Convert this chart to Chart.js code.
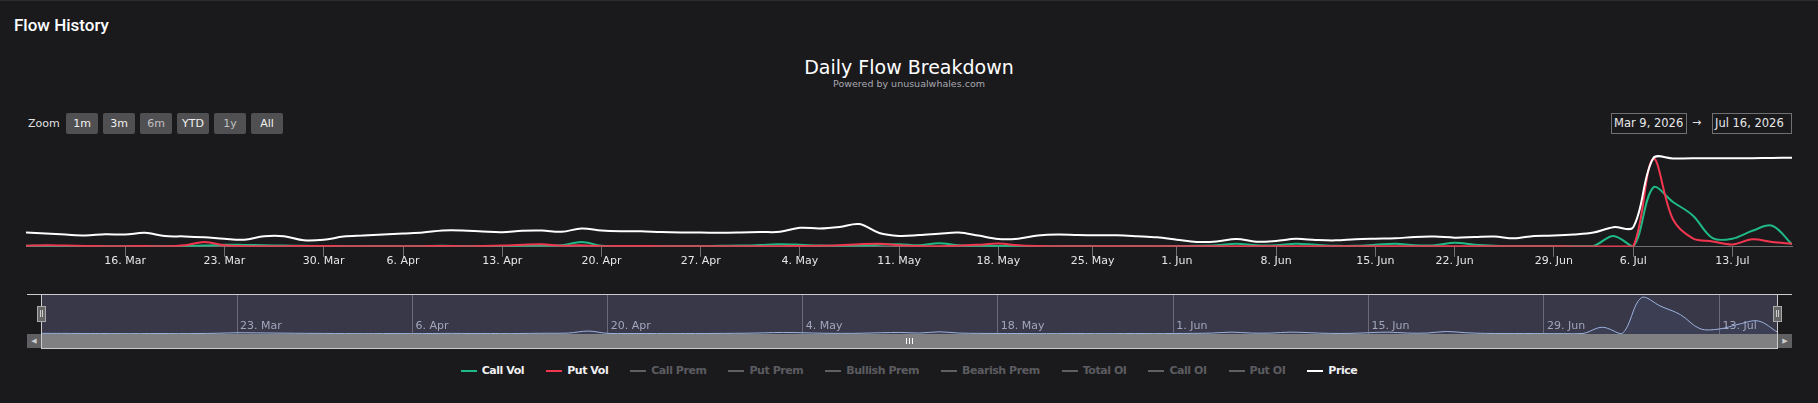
<!DOCTYPE html>
<html>
<head>
<meta charset="utf-8" />
<title>Flow History</title>
<style>
  html, body { margin: 0; padding: 0; }
  body { width: 1818px; height: 403px; background: #1a1a1d; position: relative; overflow: hidden;
         font-family: 'DejaVu Sans', sans-serif; color: #e0e0e3; border-top: 1px solid #2c2c30; box-sizing: border-box; }
  .abs { position: absolute; }
  #panelTitle { left: 14px; top: 14px; font: 500 17px Roboto, sans-serif; color: #fff; line-height: 20px; }
  #title { left: 0; width: 1818px; top: 55px; text-align: center; font-size: 19px; line-height: 22px; color: #fff; }
  #subtitle { left: 0; width: 1818px; top: 77px; text-align: center; font-size: 9.5px; line-height: 12px; color: #a8a8b0; }
  #zoomLbl { left: 28px; top: 116px; font-size: 11px; line-height: 14px; }
  .btn { top: 112px; width: 32px; height: 21px; background: #505053; border-radius: 2px; font-size: 11px;
         line-height: 21px; text-align: center; color: #f0f0f0; }
  .btn.dim { color: #c0c0c3; }
  .dbox { top: 112px; height: 19px; border: 1px solid #707073; font-size: 11.5px; line-height: 19px; padding-left: 2px; color: #e8e8ea; box-sizing: content-box; }
  #arrow { left: 1692px; top: 114px; font-size: 11px; line-height: 16px; }
  #legend { left: 0; width: 1818px; top: 363px; display: flex; justify-content: center; align-items: center;
            font: bold 11px 'DejaVu Sans', sans-serif; letter-spacing: -0.45px; }
  .item { display: flex; align-items: center; margin: 0 11px; }
  .sym { width: 16px; height: 2px; margin-right: 5px; }
</style>
</head>
<body>
  <div id="panelTitle" class="abs">Flow History</div>
  <div id="title" class="abs">Daily Flow Breakdown</div>
  <div id="subtitle" class="abs">Powered by unusualwhales.com</div>

  <div id="zoomLbl" class="abs">Zoom</div>
  <div class="abs btn" style="left:66px">1m</div>
  <div class="abs btn" style="left:103px">3m</div>
  <div class="abs btn dim" style="left:140px">6m</div>
  <div class="abs btn" style="left:177px">YTD</div>
  <div class="abs btn dim" style="left:214px">1y</div>
  <div class="abs btn" style="left:251px">All</div>

  <div class="abs dbox" style="left:1611px;width:72px">Mar 9, 2026</div>
  <div id="arrow" class="abs">&rarr;</div>
  <div class="abs dbox" style="left:1712px;width:76px">Jul 16, 2026</div>

  <canvas id="mainChart" class="abs" width="1818" height="125" style="left:0;top:140px"></canvas>

  <!-- navigator -->
  <canvas id="navChart" class="abs" width="1736" height="39" style="left:42px;top:294px"></canvas>
  <div class="abs" style="left:27px;top:293px;width:1765px;height:1px;background:#cccccc"></div>
  <div class="abs" style="left:27px;top:333px;width:1765px;height:14px;background:#404043"></div>
  <div class="abs" style="left:42px;top:333px;width:1736px;height:14px;background:#808083"></div>
  <div class="abs" style="left:27px;top:333px;width:14px;height:14px;background:#606063;color:#ccc;font-size:7px;line-height:14px;text-align:center">&#9664;</div>
  <div class="abs" style="left:1778px;top:333px;width:14px;height:14px;background:#606063;color:#ccc;font-size:7px;line-height:14px;text-align:center">&#9654;</div>
  <div class="abs" style="left:41px;top:293px;width:1px;height:55px;background:#cccccc"></div>
  <div class="abs" style="left:1777px;top:293px;width:1px;height:55px;background:#cccccc"></div>
  <div class="abs" style="left:41px;top:347px;width:1737px;height:1px;background:#cccccc"></div>
  <div class="abs" style="left:906px;top:337px;width:1px;height:6px;background:#fff"></div>
  <div class="abs" style="left:909px;top:337px;width:1px;height:6px;background:#fff"></div>
  <div class="abs" style="left:912px;top:337px;width:1px;height:6px;background:#fff"></div>
  <div class="abs" style="left:37px;top:305px;width:7px;height:14px;background:#666;border:1px solid #aaa"></div>
  <div class="abs" style="left:40px;top:309px;width:1px;height:7px;background:#ccc"></div>
  <div class="abs" style="left:42px;top:309px;width:1px;height:7px;background:#ccc"></div>
  <div class="abs" style="left:1773px;top:305px;width:7px;height:14px;background:#666;border:1px solid #aaa"></div>
  <div class="abs" style="left:1776px;top:309px;width:1px;height:7px;background:#ccc"></div>
  <div class="abs" style="left:1778px;top:309px;width:1px;height:7px;background:#ccc"></div>

  <div id="legend" class="abs"></div>

  <script src="https://cdn.jsdelivr.net/npm/chart.js@4.4.1/dist/chart.umd.min.js"></script>
  <script>
    // trading days, Mar 9 - Jul 16 2026 (holidays skipped)
    var tradingDays = [
      '03-09','03-10','03-11','03-12','03-13','03-16','03-17','03-18','03-19','03-20',
      '03-23','03-24','03-25','03-26','03-27','03-30','03-31',
      '04-01','04-02','04-06','04-07','04-08','04-09','04-10','04-13','04-14','04-15',
      '04-16','04-17','04-20','04-21','04-22','04-23','04-24','04-27','04-28','04-29','04-30',
      '05-01','05-04','05-05','05-06','05-07','05-08','05-11','05-12','05-13','05-14',
      '05-15','05-18','05-19','05-20','05-21','05-22','05-26','05-27','05-28','05-29',
      '06-01','06-02','06-03','06-04','06-05','06-08','06-09','06-10','06-11','06-12',
      '06-15','06-16','06-17','06-18','06-22','06-23','06-24','06-25','06-26','06-29','06-30',
      '07-01','07-02','07-06','07-07','07-08','07-09','07-10','07-13','07-14','07-15','07-16'
    ];

    var callVol = [
      1060, 1060, 850, 850, 640, 640, 850, 640, 850, 1280,
      2130, 1920, 1600, 1280, 1060, 850, 640, 640, 850, 640,
      850, 1060, 850, 850, 640, 1060, 1280, 1600, 5000, 1060,
      850, 850, 640, 850, 850, 1060, 1280, 1920, 2660, 2130,
      1280, 1060, 1280, 2130, 2660, 1600, 3720, 1600, 1060, 850,
      850, 640, 640, 850, 640, 640, 850, 640, 850, 1060,
      1600, 3190, 1600, 1600, 3190, 2130, 1060, 1060, 2130, 3190,
      1600, 1600, 4260, 2130, 1060, 850, 850, 640, 640, 850,
      11380, 320, 61700, 46800, 32700, 9040, 8510, 16700, 22000, 2450
    ];

    var putVol = [
      1060, 1600, 1280, 850, 640, 640, 850, 530, 1600, 5000,
      1600, 640, 530, 640, 850, 850, 640, 530, 640, 640,
      640, 850, 640, 850, 1280, 2130, 2660, 1060, 1600, 640,
      850, 850, 640, 640, 530, 640, 640, 530, 640, 850,
      1060, 1600, 2660, 3190, 1600, 850, 640, 1060, 2130, 3510,
      1600, 850, 640, 640, 530, 640, 640, 530, 640, 530,
      640, 640, 530, 640, 530, 640, 640, 530, 640, 640,
      530, 640, 640, 530, 530, 530, 530, 530, 430, 430,
      320, 320, 91800, 28700, 8830, 5640, 2450, 7770, 5000, 3190
    ];

    var price = [
      3.72, 3.46, 3.19, 2.98, 3.27, 3.19, 3.64, 2.79, 2.71, 2.47,
      2.07, 1.86, 2.74, 2.74, 1.68, 1.81, 2.66, 2.93, 3.19, 3.46,
      3.72, 4.26, 4.26, 3.99, 3.80, 4.20, 4.26, 3.91, 4.79, 4.26,
      4.07, 4.07, 3.83, 3.72, 3.72, 3.64, 3.72, 3.86, 3.91, 4.97,
      4.79, 5.19, 5.93, 3.59, 2.85, 3.06, 3.40, 3.72, 2.93, 2.05,
      2.13, 2.93, 3.19, 3.06, 3.01, 3.01, 2.77, 2.47, 1.86, 1.28,
      1.38, 2.05, 1.33, 1.54, 2.07, 1.78, 1.68, 2.00, 2.13, 2.21,
      2.58, 2.66, 2.39, 2.53, 2.66, 2.21, 2.85, 2.93, 3.19, 3.72,
      5.13, 5.13, 23.06, 23.06, 23.09, 23.09, 23.12, 23.14, 23.20, 23.22
    ];

    // week-start ticks (main axis) and two-week ticks (navigator)
    var mainTickDates = ['03-16','03-23','03-30','04-06','04-13','04-20','04-27','05-04','05-11',
                         '05-18','05-25','06-01','06-08','06-15','06-22','06-29','07-06','07-13'];
    var navTickDates = ['03-23','04-06','04-20','05-04','05-18','06-01','06-15','06-29','07-13'];
    var monthNames = ['Jan','Feb','Mar','Apr','May','Jun','Jul','Aug','Sep','Oct','Nov','Dec'];

    var seriesNames = ['Call Vol','Put Vol','Call Prem','Put Prem','Bullish Prem','Bearish Prem','Total OI','Call OI','Put OI','Price'];
    var seriesColors = ['#1fb984','#f2364f',null,null,null,null,null,null,null,'#ffffff'];

    var GREEN = '#1fb984', RED = '#f2364f', AXIS = '#707073';

    function toTime(md) { return Date.parse('2026-' + md + 'T00:00:00Z'); }
    var dayTimes = tradingDays.map(toTime);

    // position of a calendar date on the ordinal (trading-day) axis
    function ordinalPos(md) {
      var t = toTime(md);
      for (var i = 0; i < dayTimes.length; i++) {
        if (dayTimes[i] === t) return i;
        if (dayTimes[i] > t) return i - 1 + (t - dayTimes[i - 1]) / (dayTimes[i] - dayTimes[i - 1]);
      }
      return dayTimes.length - 1;
    }
    function fmtDate(md) {
      var p = md.split('-');
      return (+p[1]) + '. ' + monthNames[+p[0] - 1];
    }

    var mainTickPos = mainTickDates.map(ordinalPos);
    var mainTickLabels = mainTickDates.map(fmtDate);
    var navTickPos = navTickDates.map(ordinalPos);
    var navTickLabels = navTickDates.map(fmtDate);

    function pts(arr) { return arr.map(function (v, i) { return { x: i, y: v }; }); }

    var mainChart = new Chart(document.getElementById('mainChart').getContext('2d'), {
      type: 'line',
      data: {
        datasets: [
          { label: 'Call Vol', data: pts(callVol), borderColor: GREEN, yAxisID: 'yv', order: 2 },
          { label: 'Put Vol', data: pts(putVol), borderColor: RED, yAxisID: 'yv', order: 1 },
          { label: 'Price', data: pts(price), borderColor: '#ffffff', yAxisID: 'yp', order: 0 }
        ]
      },
      options: {
        responsive: false,
        animation: false,
        layout: { padding: { left: 26, right: 26, top: 10, bottom: 0 } },
        elements: { point: { radius: 0 }, line: { tension: 0.35, borderWidth: 2, fill: false } },
        plugins: { legend: { display: false }, tooltip: { enabled: false } },
        scales: {
          x: {
            type: 'linear', min: 0, max: tradingDays.length - 1, bounds: 'data',
            afterBuildTicks: function (s) { s.ticks = mainTickPos.map(function (v) { return { value: v }; }); },
            ticks: {
              autoSkip: false, maxRotation: 0, padding: -2, color: '#e6e6e8',
              font: { family: 'DejaVu Sans', size: 11 },
              callback: function (v, i) { return mainTickLabels[i]; }
            },
            grid: { drawOnChartArea: false, drawTicks: true, tickLength: 10, color: AXIS },
            border: { color: AXIS }
          },
          yv: { display: false, min: 0, max: 100000 },
          yp: { display: false, min: 0, max: 25 }
        }
      }
    });

    // navigator: mask fill behind, date labels inside the plot
    var navDecor = {
      id: 'navDecor',
      beforeDraw: function (chart) {
        var a = chart.chartArea, c = chart.ctx;
        c.save();
        c.fillStyle = '#383848';
        c.fillRect(a.left, a.top, a.right - a.left, a.bottom - a.top);
        c.restore();
      },
      beforeDatasetsDraw: function (chart) {
        var c = chart.ctx, xs = chart.scales.x, a = chart.chartArea;
        c.save();
        c.font = '11px "DejaVu Sans"';
        c.fillStyle = '#a3a6bb';
        c.textBaseline = 'middle';
        navTickPos.forEach(function (p, i) {
          c.fillText(navTickLabels[i], xs.getPixelForValue(p) + 3, a.bottom - 8);
        });
        c.restore();
      }
    };

    var navChart = new Chart(document.getElementById('navChart').getContext('2d'), {
      type: 'line',
      data: {
        datasets: [{
          label: 'Call Vol', data: pts(callVol), borderColor: '#9db2de', borderWidth: 1,
          fill: true, backgroundColor: 'rgba(120,150,215,0.08)', tension: 0.35, pointRadius: 0
        }]
      },
      options: {
        responsive: false,
        animation: false,
        layout: { padding: 0 },
        plugins: { legend: { display: false }, tooltip: { enabled: false } },
        scales: {
          x: {
            type: 'linear', min: 0, max: tradingDays.length - 1, bounds: 'data',
            afterBuildTicks: function (s) { s.ticks = navTickPos.map(function (v) { return { value: v }; }); },
            ticks: { display: false },
            grid: { color: '#6a6a78', drawTicks: false },
            border: { display: false }
          },
          y: { display: false, min: 0, max: Math.max.apply(null, callVol) * 1.07 }
        }
      },
      plugins: [navDecor]
    });

    // legend (disabled series greyed out as in the source)
    var legend = document.getElementById('legend');
    seriesNames.forEach(function (name, i) {
      var on = !!seriesColors[i];
      var item = document.createElement('div');
      item.className = 'item';
      item.innerHTML = '<span class="sym" style="background:' + (on ? seriesColors[i] : '#606063') + '"></span>' +
        '<span style="color:' + (on ? '#f0f0f2' : '#5c5c60') + '">' + name + '</span>';
      legend.appendChild(item);
    });
  </script>
</body>
</html>
